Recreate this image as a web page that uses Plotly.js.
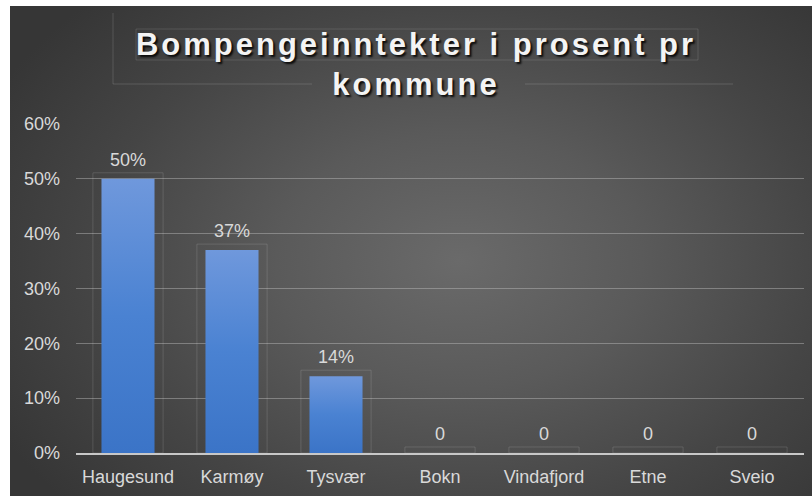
<!DOCTYPE html>
<html>
<head>
<meta charset="utf-8">
<script src="https://cdn.plot.ly/plotly-3.0.1.min.js"></script>
<style>
  html, body { margin: 0; padding: 0; background: #ffffff; width: 812px; height: 496px; overflow: hidden; }
  #chart {
    position: absolute; left: 10px; top: 6px; width: 802px; height: 490px;
    background: radial-gradient(ellipse 65% 75% at 56% 52%, #6a6a6a 0%, #5a5a5a 35%, #454545 70%, #363636 100%);
  }
</style>
</head>
<body>
<svg width="0" height="0" style="position:absolute">
  <defs>
    <linearGradient id="barGrad" x1="0" y1="0" x2="0" y2="1">
      <stop offset="0%" stop-color="#6f98dc"/>
      <stop offset="50%" stop-color="#4a82d2"/>
      <stop offset="100%" stop-color="#3b74c7"/>
    </linearGradient>
  </defs>
</svg>
<div id="chart"></div>
<script>
const categories = ["Haugesund", "Karmøy", "Tysvær", "Bokn", "Vindafjord", "Etne", "Sveio"];
const values = [50, 37, 14, 0, 0, 0, 0];
const valueLabels = ["50%", "37%", "14%", "0", "0", "0", "0"];
const yTickValues = [0, 10, 20, 30, 40, 50, 60];
const yTickLabels = ["0%", "10%", "20%", "30%", "40%", "50%", "60%"];
const labelBoxPad = 1.1;

const textColor = "#d9d9d9";
const fontFamily = "Liberation Sans, Arial, sans-serif";

const outlineTrace = {
  type: "bar",
  x: categories,
  y: values.map(v => v + labelBoxPad),
  width: 0.675,
  marker: { color: "rgba(0,0,0,0)", line: { color: "rgba(255,255,255,0.13)", width: 1 } },
  text: valueLabels,
  textposition: "outside",
  cliponaxis: false,
  textfont: { family: fontFamily, size: 18, color: textColor },
  hoverinfo: "skip",
  showlegend: false
};

const barTrace = {
  type: "bar",
  x: categories,
  y: values,
  width: 0.51,
  marker: { color: "#5587d6", line: { width: 0 } },
  hoverinfo: "x+y",
  showlegend: false
};

const W = 802, H = 490;
// plot area in page pixels: x 76..804, y 124..453
function px(x) { return (x - 76) / 728; }
function py(y) { return (453 - y) / 329; }
function cy(y) { return 1 - (y - 6) / H; }
function cx(x) { return (x - 10) / W; }
const faint = { color: "rgba(255,255,255,0.14)", width: 1 };

const layout = {
  width: W,
  height: H,
  paper_bgcolor: "rgba(0,0,0,0)",
  plot_bgcolor: "rgba(0,0,0,0)",
  margin: { l: 66, r: 8, t: 118, b: 43 },
  barmode: "overlay",
  font: { family: fontFamily, color: textColor, size: 18 },
  title: {
    text: '<span style="letter-spacing:3px">Bompengeinntekter i prosent pr<br>kommune</span>',
    x: cx(416), xanchor: "center",
    y: cy(55), yanchor: "top",
    font: { family: fontFamily, size: 31, color: "#f4f4f4", weight: 700, shadow: "2px 2px 2px rgba(0,0,0,0.85)" }
  },
  xaxis: {
    type: "category",
    showgrid: false,
    showline: true,
    linecolor: "#c8c8c8",
    linewidth: 2,
    ticks: "",
    ticklabelstandoff: 6,
    tickfont: { family: fontFamily, size: 18, color: textColor },
    zeroline: false
  },
  yaxis: {
    range: [0, 60],
    tickvals: yTickValues,
    ticktext: yTickLabels,
    showgrid: true,
    gridcolor: "rgba(190,190,190,0.45)",
    gridwidth: 1,
    zeroline: false,
    showline: false,
    ticks: "",
    ticklabelstandoff: 15,
    tickfont: { family: fontFamily, size: 18, color: textColor }
  },
  shapes: [
    { type: "line", xref: "paper", yref: "paper", x0: px(113), x1: px(113), y0: py(13), y1: py(84), line: faint },
    { type: "line", xref: "paper", yref: "paper", x0: px(113), x1: px(312), y0: py(84), y1: py(84), line: faint },
    { type: "line", xref: "paper", yref: "paper", x0: px(525), x1: px(733), y0: py(84), y1: py(84), line: faint },
    { type: "rect", xref: "paper", yref: "paper", x0: px(136), x1: px(698), y0: py(29), y1: py(60), line: { color: "rgba(255,255,255,0.12)", width: 1 } }
  ]
};

Plotly.newPlot("chart", [outlineTrace, barTrace], layout, { displayModeBar: false, staticPlot: true }).then(gd => {
  const traces = gd.querySelectorAll(".barlayer .trace.bars");
  if (traces.length > 1) {
    traces[1].querySelectorAll("path").forEach(p => { p.style.fill = "url(#barGrad)"; });
  }
});
</script>
</body>
</html>
